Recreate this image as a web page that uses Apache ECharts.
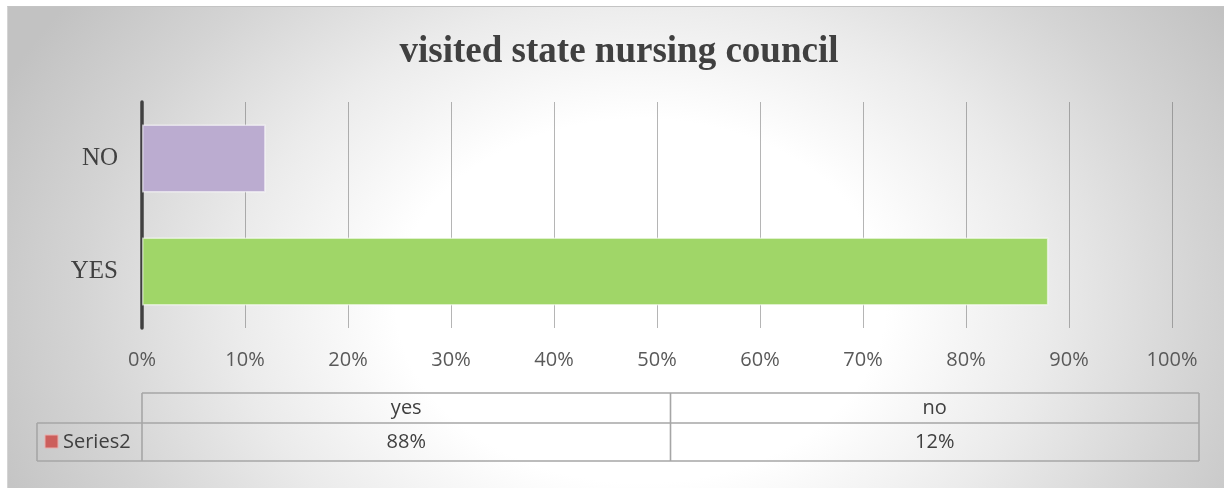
<!DOCTYPE html>
<html>
<head>
<meta charset="utf-8">
<script src="https://cdn.jsdelivr.net/npm/echarts@6/dist/echarts.min.js"></script>
<style>
  html, body { margin: 0; padding: 0; background: #ffffff; }
  #frame {
    position: absolute; left: 7px; top: 6px; width: 1217px; height: 482px;
    box-sizing: border-box; border-top: 1px solid #c4c4c4; border-left: 1px solid #d4d4d4;
    background: radial-gradient(ellipse 700px 520px at 633px 294px, #ffffff 0%, #ffffff 35%, #ebebeb 58%, #d4d4d4 80%, #c2c2c2 100%);
  }
  #chart { position: absolute; left: 0; top: 0; width: 1224px; height: 488px; }
</style>
</head>
<body>
<div id="frame"></div>
<div id="chart"></div>
<script>
// Survey answers: share of respondents who visited the state nursing council
const categories = ['YES', 'NO'];          // bottom to top on the category axis
const tableHeaders = ['yes', 'no'];        // data-table column headers
const values = [88, 12];                   // percent
const barColors = ['#a0d668', '#bbacd0'];
const seriesName = 'Series2';
const seriesColor = '#cc5f5c';

const chart = echarts.init(document.getElementById('chart'), null, { renderer: 'canvas' });

const textColor = '#404040';
const sansFont = "'Open Sans', 'Liberation Sans', sans-serif";

// data table geometry below the axis
const table = { left: 142, right: 1199, legendLeft: 37, top: 393, mid: 423, bottom: 461 };
const lineStyle = { stroke: '#a6a6a6', lineWidth: 1.6 };

function hLine(x1, x2, y) {
  return { type: 'line', shape: { x1, y1: y, x2, y2: y }, style: lineStyle, silent: true };
}
function vLine(x, y1, y2) {
  return { type: 'line', shape: { x1: x, y1, x2: x, y2 }, style: lineStyle, silent: true };
}
function cellText(text, x, y, align) {
  return {
    type: 'text', x, y, silent: true,
    style: {
      text, fill: textColor, font: "20px " + sansFont,
      align: align || 'center', verticalAlign: 'middle',
      textAlign: align || 'center', textVerticalAlign: 'middle'
    }
  };
}

const tableElements = [];
const colW = (table.right - table.left) / tableHeaders.length;
tableElements.push(hLine(table.left, table.right, table.top));
tableElements.push(hLine(table.legendLeft, table.right, table.mid));
tableElements.push(hLine(table.legendLeft, table.right, table.bottom));
tableElements.push(vLine(table.legendLeft, table.mid, table.bottom));
for (let i = 0; i <= tableHeaders.length; i++) {
  tableElements.push(vLine(table.left + colW * i, table.top, table.bottom));
}
tableHeaders.forEach((h, i) => {
  const cx = table.left + colW * (i + 0.5);
  tableElements.push(cellText(h, cx, (table.top + table.mid) / 2));
  tableElements.push(cellText(values[i] + '%', cx, (table.mid + table.bottom) / 2));
});
// legend key for the series row
tableElements.push({
  type: 'rect', silent: true,
  shape: { x: 45, y: 435, width: 13, height: 13 },
  style: { fill: seriesColor, stroke: '#e8b0ae', lineWidth: 1 }
});
tableElements.push(cellText(seriesName, 63, (table.mid + table.bottom) / 2, 'left'));

chart.setOption({
  backgroundColor: 'transparent',
  animation: false,
  title: {
    text: 'visited state nursing council',
    left: 614, top: 29, textAlign: 'center',
    textStyle: { fontFamily: "'Liberation Serif', 'Times New Roman', serif", fontWeight: 'bold', fontSize: 37, color: textColor }
  },
  grid: { left: 142, right: 52, top: 102, bottom: 160, containLabel: false },
  xAxis: {
    type: 'value', min: 0, max: 100, interval: 10,
    axisLine: { show: false },
    axisTick: { show: false },
    axisLabel: { formatter: '{value}%', color: '#595959', fontFamily: sansFont, fontSize: 20, margin: 22 },
    splitLine: { show: true, lineStyle: { color: 'rgba(90,90,90,0.45)', width: 1 } }
  },
  yAxis: {
    type: 'category', data: categories,
    axisLine: { show: true, lineStyle: { color: '#404040', width: 3.5 } },
    axisTick: { show: false },
    axisLabel: { color: textColor, fontFamily: "'Liberation Serif', 'Times New Roman', serif", fontSize: 25, margin: 24 }
  },
  series: [{
    name: seriesName,
    type: 'bar',
    barCategoryGap: '40%',
    data: values.map((v, i) => ({ value: v, itemStyle: { color: barColors[i] } })),
    itemStyle: { borderColor: 'rgba(255,255,255,0.55)', borderWidth: 1.5 },
    z: 1
  }],
  graphic: { elements: tableElements }
});
</script>
</body>
</html>
